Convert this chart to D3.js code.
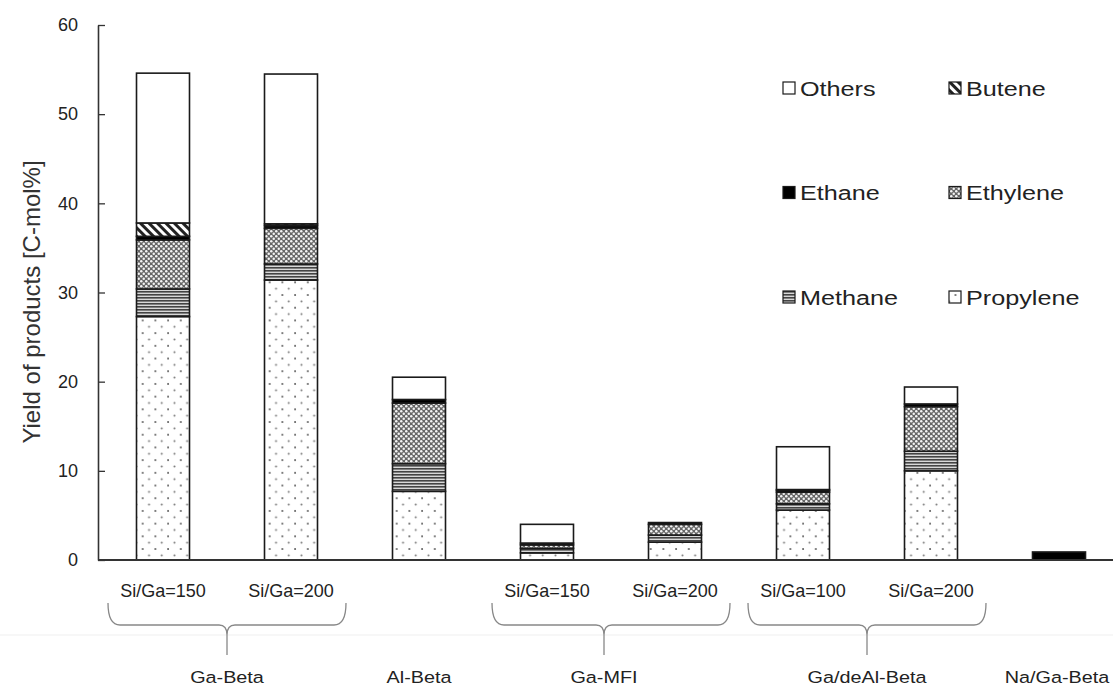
<!DOCTYPE html>
<html>
<head>
<meta charset="utf-8">
<script src="https://cdn.jsdelivr.net/npm/d3@7"></script>
<style>
  html, body { margin: 0; padding: 0; background: #fff; overflow: hidden; }
  svg { display: block; font-family: "Liberation Sans", Arial, sans-serif; }
</style>
</head>
<body>
<svg id="chart" width="1113" height="688"></svg>
<script>
// Catalyst samples (one stacked column each)
const samples   = ["s1", "s2", "s3", "s4", "s5", "s6", "s7", "s8"];
const subLabels = ["Si/Ga=150", "Si/Ga=200", "", "Si/Ga=150", "Si/Ga=200", "Si/Ga=100", "Si/Ga=200", ""];

// Catalyst families shown under the columns
const groupNames   = ["Ga-Beta", "Al-Beta", "Ga-MFI", "Ga/deAl-Beta", "Na/Ga-Beta"];
const groupMembers = [["s1", "s2"], ["s3"], ["s4", "s5"], ["s6", "s7"], ["s8"]];

// Product yields [C-mol%], bottom to top of each column
const propylene = [27.3, 31.4, 7.7, 0.8, 2.0, 5.6, 10.0, 0];
const methane   = [3.1, 1.8, 3.1, 0.5, 0.8, 0.7, 2.2, 0];
const ethylene  = [5.5, 4.0, 6.8, 0.4, 1.2, 1.3, 5.0, 0];
const ethane    = [0.4, 0.3, 0.4, 0.2, 0.2, 0.2, 0.3, 0.9];
const butene    = [1.5, 0.2, 0.0, 0.0, 0.0, 0.1, 0.0, 0];
const others    = [16.8, 16.8, 2.5, 2.1, 0.0, 4.8, 1.9, 0];

const seriesNames = ["Propylene", "Methane", "Ethylene", "Ethane", "Butene", "Others"];
const seriesData  = [propylene, methane, ethylene, ethane, butene, others];

const yTicks = [0, 10, 20, 30, 40, 50, 60];

const svg = d3.select("#chart");
const defs = svg.append("defs");

// Fill patterns for each product
const pProp = defs.append("pattern").attr("id", "pat-Propylene")
  .attr("patternUnits", "userSpaceOnUse").attr("width", 12.7).attr("height", 12.7);
pProp.append("rect").attr("width", 12.7).attr("height", 12.7).attr("fill", "#fff");
pProp.append("circle").attr("cx", 3).attr("cy", 3).attr("r", 1.0).attr("fill", "#555");
pProp.append("circle").attr("cx", 9.35).attr("cy", 9.35).attr("r", 1.0).attr("fill", "#777");

const pMeth = defs.append("pattern").attr("id", "pat-Methane")
  .attr("patternUnits", "userSpaceOnUse").attr("width", 6).attr("height", 3);
pMeth.append("rect").attr("width", 6).attr("height", 3).attr("fill", "#d8d8d8");
pMeth.append("rect").attr("y", 0).attr("width", 6).attr("height", 1.6).attr("fill", "#444");

const pEthy = defs.append("pattern").attr("id", "pat-Ethylene")
  .attr("patternUnits", "userSpaceOnUse").attr("width", 5).attr("height", 5);
pEthy.append("rect").attr("width", 5).attr("height", 5).attr("fill", "#666");
pEthy.append("circle").attr("cx", 1.25).attr("cy", 1.25).attr("r", 1.25).attr("fill", "#f4f4f4");
pEthy.append("circle").attr("cx", 3.75).attr("cy", 3.75).attr("r", 1.25).attr("fill", "#f4f4f4");

const pBut = defs.append("pattern").attr("id", "pat-Butene")
  .attr("patternUnits", "userSpaceOnUse").attr("width", 6).attr("height", 6)
  .attr("patternTransform", "rotate(-45)");
pBut.append("rect").attr("width", 6).attr("height", 6).attr("fill", "#fff");
pBut.append("rect").attr("width", 3).attr("height", 6).attr("fill", "#222");

const fills = {
  Propylene: "url(#pat-Propylene)",
  Methane: "url(#pat-Methane)",
  Ethylene: "url(#pat-Ethylene)",
  Ethane: "#000",
  Butene: "url(#pat-Butene)",
  Others: "#fff"
};

// Text helper: labels are drawn slightly wide
function wideText(g, tx, ty, str, size, sx, anchor) {
  return g.append("text")
    .attr("transform", `translate(${tx},${ty}) scale(${sx},1)`)
    .attr("text-anchor", anchor || "start")
    .attr("font-size", size).attr("fill", "#222")
    .text(str);
}

// Scales
const x = d3.scaleBand().domain(samples).range([99, 1123])
  .paddingInner(0.586).paddingOuter(0.293);
const y = d3.scaleLinear().domain([0, 60]).range([560, 25]);

// Stack layout
const rows = samples.map((s, i) => {
  const r = { sample: s };
  seriesNames.forEach((n, k) => { r[n] = seriesData[k][i]; });
  return r;
});
const stacked = d3.stack().keys(seriesNames)(rows);

// Faint separator under the sub-labels
svg.append("line").attr("x1", 0).attr("x2", 1113).attr("y1", 635).attr("y2", 635)
  .attr("stroke", "#efefef").attr("stroke-width", 1);

// Bars
const layers = svg.append("g").selectAll("g").data(stacked).join("g")
  .attr("fill", d => fills[d.key]);
layers.selectAll("rect")
  .data(d => d.filter(p => p[1] - p[0] > 0).map(p => ({ p, key: d.key })))
  .join("rect")
  .attr("x", d => x(d.p.data.sample))
  .attr("width", x.bandwidth())
  .attr("y", d => y(d.p[1]))
  .attr("height", d => y(d.p[0]) - y(d.p[1]))
  .attr("stroke", "#1a1a1a")
  .attr("stroke-width", 1.6);

// Y axis (ticks pointing inward)
const yAxis = svg.append("g").attr("transform", "translate(98,0)")
  .call(d3.axisLeft(y).tickValues(yTicks).tickSizeInner(-7).tickSizeOuter(0).tickPadding(20));
yAxis.select(".domain").attr("stroke", "#333").attr("stroke-width", 1.6);
yAxis.selectAll(".tick line").attr("stroke", "#333").attr("stroke-width", 1.3);
yAxis.selectAll(".tick text").attr("font-size", 18).attr("fill", "#222")
  .attr("font-family", "'Liberation Sans', Arial, sans-serif");

// X axis baseline
svg.append("line").attr("x1", 98).attr("x2", 1113).attr("y1", 560).attr("y2", 560)
  .attr("stroke", "#333").attr("stroke-width", 2);

// Y title
svg.append("text")
  .attr("transform", "translate(40,302) rotate(-90)")
  .attr("text-anchor", "middle")
  .attr("font-size", 24).attr("fill", "#333")
  .text("Yield of products [C-mol%]");

// Sub-labels under each column
const subG = svg.append("g");
samples.forEach((s, i) => {
  if (subLabels[i]) wideText(subG, x(s) + x.bandwidth() / 2, 597, subLabels[i], 17.5, 1.03, "middle");
});

// Braces grouping the paired columns
const braceG = svg.append("g").attr("fill", "none").attr("stroke", "#888").attr("stroke-width", 1.3);
const groupG = svg.append("g");
groupMembers.forEach((members, gi) => {
  const cx = d3.mean(members, m => x(m) + x.bandwidth() / 2);
  const tipX = gi === 2 ? cx - 7 : cx;
  if (members.length > 1) {
    const x0 = cx - 119, x1 = cx + 119;
    const yTop = 603, yMid = 625, yTip = 655;
    braceG.append("path").attr("d",
      `M${x0},${yTop} Q${x0},${yMid} ${x0 + 12},${yMid} L${tipX - 8},${yMid} Q${tipX},${yMid} ${tipX},${yMid + 10} L${tipX},${yTip}` +
      ` M${x1},${yTop} Q${x1},${yMid} ${x1 - 12},${yMid} L${tipX + 8},${yMid} Q${tipX},${yMid} ${tipX},${yMid + 10}`);
  }
  const labelX = gi === groupNames.length - 1 ? Math.min(tipX, 1113 - 56) : tipX;
  wideText(groupG, labelX, 683, groupNames[gi], 16.5, 1.2, "middle");
});

// Legend: 3 rows x 2 columns, top series first
const legendOrder = ["Others", "Butene", "Ethane", "Ethylene", "Methane", "Propylene"];
const legend = svg.append("g");
legendOrder.forEach((name, i) => {
  const col = i % 2, row = Math.floor(i / 2);
  const lx = col === 0 ? 783 : 949;
  const ly = 88 + row * 104.5;
  legend.append("rect")
    .attr("x", lx).attr("y", ly - 6).attr("width", 12).attr("height", 12)
    .attr("fill", fills[name]).attr("stroke", "#1a1a1a").attr("stroke-width", 1.2);
  wideText(legend, lx + 17, ly + 7.5, name, 21, 1.2, "start");
});
</script>
</body>
</html>
